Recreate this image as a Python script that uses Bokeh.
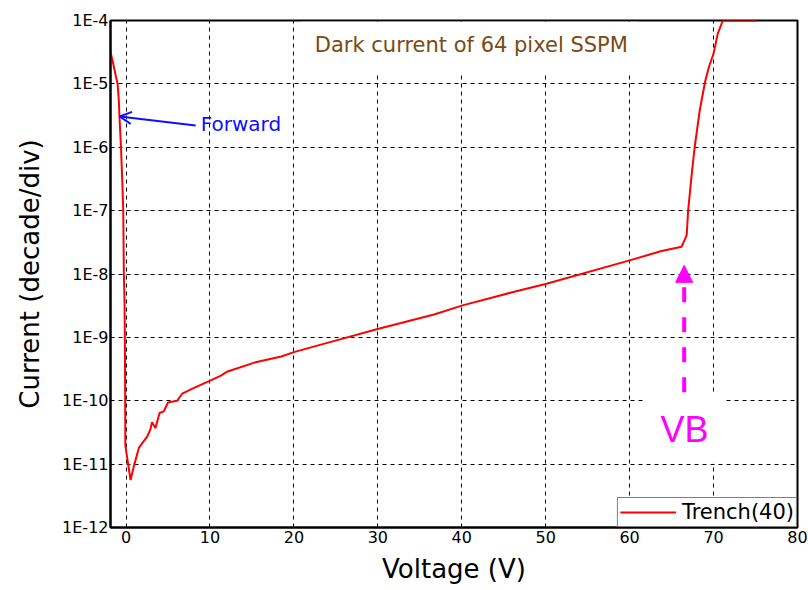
from bokeh.plotting import figure
from bokeh.models import (Range1d, FixedTicker, CustomJSTickFormatter, Label,
                          Arrow, NormalHead, OpenHead)
from bokeh.embed import file_html
from bokeh.resources import INLINE

# ---- data ----
voltage = [-1.85, -1.5, -1.2, -1.0, -0.86, -0.78, -0.6, -0.45, -0.33, -0.26,
           -0.18, -0.14, -0.12, -0.08, 0.05, 0.54, 1.0, 1.53, 2.0, 2.5, 2.9,
           3.1, 3.5, 4.0, 4.5, 5.0, 6.1, 6.7, 8.1, 10.1, 11.3, 12.1, 15.3,
           18.5, 20.1, 24.4, 30.2, 36.7, 40.1, 45.9, 50.1, 60.0, 63.8, 66.2,
           66.8, 66.97, 67.4, 67.75, 68.35, 69.0, 69.5, 70.0, 70.5, 71.1, 75.1]
current = [3.2e-5, 2.0e-5, 1.3e-5, 1.0e-5, 5.5e-6, 3.0e-6, 1.0e-6, 3.0e-7,
           1.0e-7, 1.0e-8, 3.8e-9, 1.0e-9, 3.6e-10, 2.0e-11, 1.5e-11, 5.6e-12,
           1.0e-11, 1.8e-11, 2.2e-11, 2.7e-11, 3.5e-11, 4.6e-11, 3.7e-11,
           6.4e-11, 6.8e-11, 9.4e-11, 1.0e-10, 1.3e-10, 1.6e-10, 2.1e-10,
           2.5e-10, 2.9e-10, 4.0e-10, 5.0e-10, 5.9e-10, 8.5e-10, 1.38e-9,
           2.3e-9, 3.2e-9, 5.1e-9, 7.0e-9, 1.64e-8, 2.3e-8, 2.7e-8, 4.1e-8,
           1.0e-7, 3.8e-7, 1.0e-6, 3.8e-6, 1.1e-5, 1.95e-5, 3.0e-5, 6.2e-5,
           1.0e-4, 1.0e-4]
series_name = "Trench(40)"
x_ticks = [0, 10, 20, 30, 40, 50, 60, 70, 80]
y_ticks = [1e-12, 1e-11, 1e-10, 1e-9, 1e-8, 1e-7, 1e-6, 1e-5, 1e-4]
title_text = "Dark current of 64 pixel SSPM"
x_label = "Voltage (V)"
y_label = "Current (decade/div)"

# annotation anchors (data units)
title_pos = (40.9, 3.8e-5)
forward_text_pos = (8.9, 2.37e-6)
forward_arrow = ((8.3, 2.2e-6), (-0.78, 3.06e-6))
vb_text_pos = (66.55, 3.55e-11)
vb_arrow = ((66.5, 1.36e-10), (66.5, 1.37e-8))

p = figure(width=808, height=590, output_backend="svg", toolbar_location=None,
           y_axis_type="log", x_range=Range1d(-1.85, 80),
           y_range=Range1d(1e-12, 1e-4),
           min_border_left=110, min_border_right=11, min_border_top=20,
           min_border_bottom=63)
p.background_fill_color = "white"
p.border_fill_color = "white"
p.outline_line_color = "black"
p.outline_line_width = 2

p.xaxis.ticker = FixedTicker(ticks=x_ticks, minor_ticks=[])
p.yaxis.ticker = FixedTicker(ticks=y_ticks, minor_ticks=[])
p.yaxis.formatter = CustomJSTickFormatter(
    code="return '1E' + Math.round(Math.log10(tick));")

for ax in (p.xaxis, p.yaxis):
    ax.axis_line_color = "black"
    ax.axis_line_width = 2
    ax.major_tick_out = 0
    ax.major_tick_in = 0
    ax.minor_tick_out = 0
    ax.minor_tick_in = 0
    ax.major_label_text_font = "DejaVu Sans"
    ax.major_label_text_font_size = "16px"
    ax.major_label_text_color = "black"
    ax.axis_label_text_font = "DejaVu Sans"
    ax.axis_label_text_font_size = "26px"
    ax.axis_label_text_font_style = "normal"
    ax.axis_label_text_color = "black"
p.xaxis.axis_label = x_label
p.yaxis.axis_label = y_label
p.xaxis.major_label_standoff = 3
p.yaxis.major_label_standoff = 2
p.xaxis.axis_label_standoff = 8
p.yaxis.axis_label_standoff = 14

for g in (p.xgrid, p.ygrid):
    g.grid_line_color = "black"
    g.grid_line_dash = "4 4"
    g.grid_line_width = 1

p.line(voltage, current, line_color="#ff0000", line_width=2,
       legend_label=series_name)

leg = p.legend[0]
leg.location = "bottom_right"
leg.margin = 0
leg.padding = 2
leg.spacing = 0
leg.glyph_width = 56
leg.glyph_height = 20
leg.label_height = 20
leg.label_standoff = 6
leg.label_text_font = "DejaVu Sans"
leg.label_text_font_size = "21px"
leg.label_text_color = "black"
leg.border_line_color = "black"
leg.border_line_width = 1
leg.background_fill_alpha = 1

title = Label(x=title_pos[0], y=title_pos[1], text=title_text,
              text_font="DejaVu Sans", text_font_size="21px",
              text_color="#7a4a12", text_align="center",
              text_baseline="middle", background_fill_color="white",
              padding=dict(left=14, right=10, top=11, bottom=16))
p.add_layout(title)

p.add_layout(Arrow(x_start=forward_arrow[0][0], y_start=forward_arrow[0][1],
                   x_end=forward_arrow[1][0], y_end=forward_arrow[1][1],
                   line_color="#1010ff", line_width=2,
                   end=OpenHead(size=12, line_color="#1010ff", line_width=2)))
p.add_layout(Label(x=forward_text_pos[0], y=forward_text_pos[1], text="Forward",
                   text_font="DejaVu Sans", text_font_size="20px",
                   text_color="#1010ff", text_baseline="middle"))

p.add_layout(Label(x=vb_text_pos[0], y=vb_text_pos[1], text="VB",
                   text_font="Liberation Sans", text_font_size="36px",
                   text_color="#ff00ff", text_align="center",
                   text_baseline="middle", background_fill_color="white",
                   padding=dict(left=17, right=17, top=14, bottom=14)))
p.add_layout(Arrow(x_start=vb_arrow[0][0], y_start=vb_arrow[0][1],
                   x_end=vb_arrow[1][0], y_end=vb_arrow[1][1],
                   line_color="#ff00ff", line_width=4, line_dash="15 15",
                   end=NormalHead(size=17, fill_color="#ff00ff",
                                  line_color="#ff00ff", line_width=1)))

open("out.html", "w").write(file_html(p, INLINE))
